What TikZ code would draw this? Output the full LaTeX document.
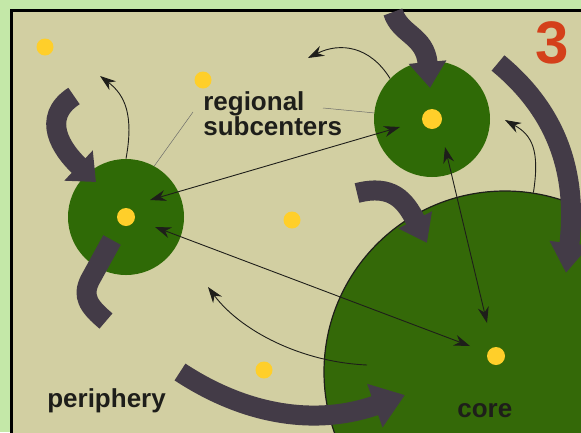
\documentclass[tikz,border=0pt]{standalone}
\usepackage{fontspec}
\setmainfont{Liberation Sans}
\usetikzlibrary{positioning, arrows.meta}
\definecolor{rgback}{HTML}{C4E8A8}
\definecolor{rgsand}{HTML}{D2CFA2}
\definecolor{rgleaf}{HTML}{2F6A06}
\definecolor{rgcore}{HTML}{346908}
\definecolor{rgsun}{HTML}{FFCF2A}
\definecolor{rgflow}{HTML}{433B47}
\definecolor{rgred}{HTML}{D4401A}
\definecolor{rgink}{HTML}{1E1E1A}

\begin{document}
\begin{tikzpicture}[x=1pt, y=-1pt, line width=0.6pt,
    town/.style={circle, fill=rgleaf, inner sep=0pt, minimum size=116pt},
    dot/.style={circle, fill=rgsun, inner sep=0pt, minimum size=#1},
    dot/.default=17pt,
    flow/.style={draw=rgflow, line width=20pt, -{Triangle[length=24pt, width=40pt]}},
    link/.style={draw=rgink, line width=0.9pt,
      {Stealth[length=16pt, width=11pt]}-{Stealth[length=16pt, width=11pt]}},
    drift/.style={draw=rgink, line width=0.9pt, -{Stealth[length=16pt, width=11pt]}},
    leader/.style={draw=rgink!65, line width=0.5pt},
    lbl/.style={font=\bfseries\fontsize{26}{25}\selectfont, text=rgink, inner sep=0pt}]
  \clip (0,0) rectangle (581,432);
  \fill[rgback] (0,0) rectangle (581,432);
  \filldraw[fill=rgsand, draw=black, line width=3pt] (11.5,10.5) rectangle (600,450);

  % core and subcenters
  \node[circle, fill=rgcore, draw=rgink, line width=1.2pt, inner sep=0pt,
    minimum size=362pt] (core) at (505,372) {};
  \node[town] (west) at (126,217) {};
  \node[town] (east) at (432,119) {};

  % yellow places
  \foreach \p/\n in {(45,47)/a, (203,80)/b, (292,220)/c, (264,370)/d}
    \node[dot] (spot\n) at \p {};
  \node[dot=18pt] (westdot) at (west) {};
  \node[dot=20pt] (eastdot) at (east) {};
  \node[dot=18pt] (coredot) at (496,356) {};

  % heavy flows
  \draw[flow] (74,96) .. controls (40,118) and (62,150) .. (96,182);
  \draw[draw=rgflow, line width=20pt] (112,240) -- (90,280)
    .. controls (82,296) and (88,306) .. (106,321);
  \draw[flow, -{Triangle[length=26pt, width=36pt]}]
    (393,12) .. controls (400,35) and (425,35) .. (430,88);
  \draw[flow, -{Triangle[length=30pt, width=38pt]}]
    (498,63) .. controls (555,110) and (578,170) .. (566,273);
  \draw[flow, -{Triangle[length=26pt, width=36pt]}]
    (357,193) .. controls (392,184) and (405,200) .. (427,243);
  \draw[flow, -{Triangle[length=32pt, width=44pt]}]
    (180,372) .. controls (250,418) and (320,425) .. (405,395);

  % exchanges between places
  \coordinate (wA) at (150,200);
  \coordinate (eA) at (400,127);
  \coordinate (wB) at (155,227);
  \coordinate (cA) at (470,346);
  \coordinate (eB) at (445,147);
  \coordinate (cB) at (487,323);
  \draw[link] (wA) -- (eA);
  \draw[link] (wB) -- (cA);
  \draw[link] (eB) -- (cB);

  \coordinate (wout) at (100,76);
  \coordinate (eout) at (308,58);
  \coordinate (cout) at (505,120);
  \coordinate (cin) at (367,365);
  \coordinate (pout) at (208,287);
  \draw[drift] (west.north) .. controls (134,115) and (125,95) .. (wout);
  \draw[drift] (east.136) .. controls (370,46) and (340,42) .. (eout);
  \draw[drift] (core.81) .. controls (540,150) and (532,135) .. (cout);
  \draw[drift] (cin) .. controls (300,362) and (240,330) .. (pout);

  % labels
  \node[lbl, anchor=north west, align=left] (sublbl) at (203,91) {regional\\subcenters};
  \coordinate (subL) at (193,112);
  \coordinate (subR) at (323,108);
  \draw[leader] (subL) -- (west.61);
  \draw[leader] (subR) -- (east.174);
  \node[lbl, anchor=base west] (perlbl) at (47,407) {periphery};
  \node[lbl, anchor=base west] (corelbl) at (457,417) {core};
  \node[font=\bfseries\fontsize{60}{60}\selectfont, text=rgred, inner sep=0pt,
    anchor=base east] (num) at (569,63) {3};
\end{tikzpicture}
\end{document}
